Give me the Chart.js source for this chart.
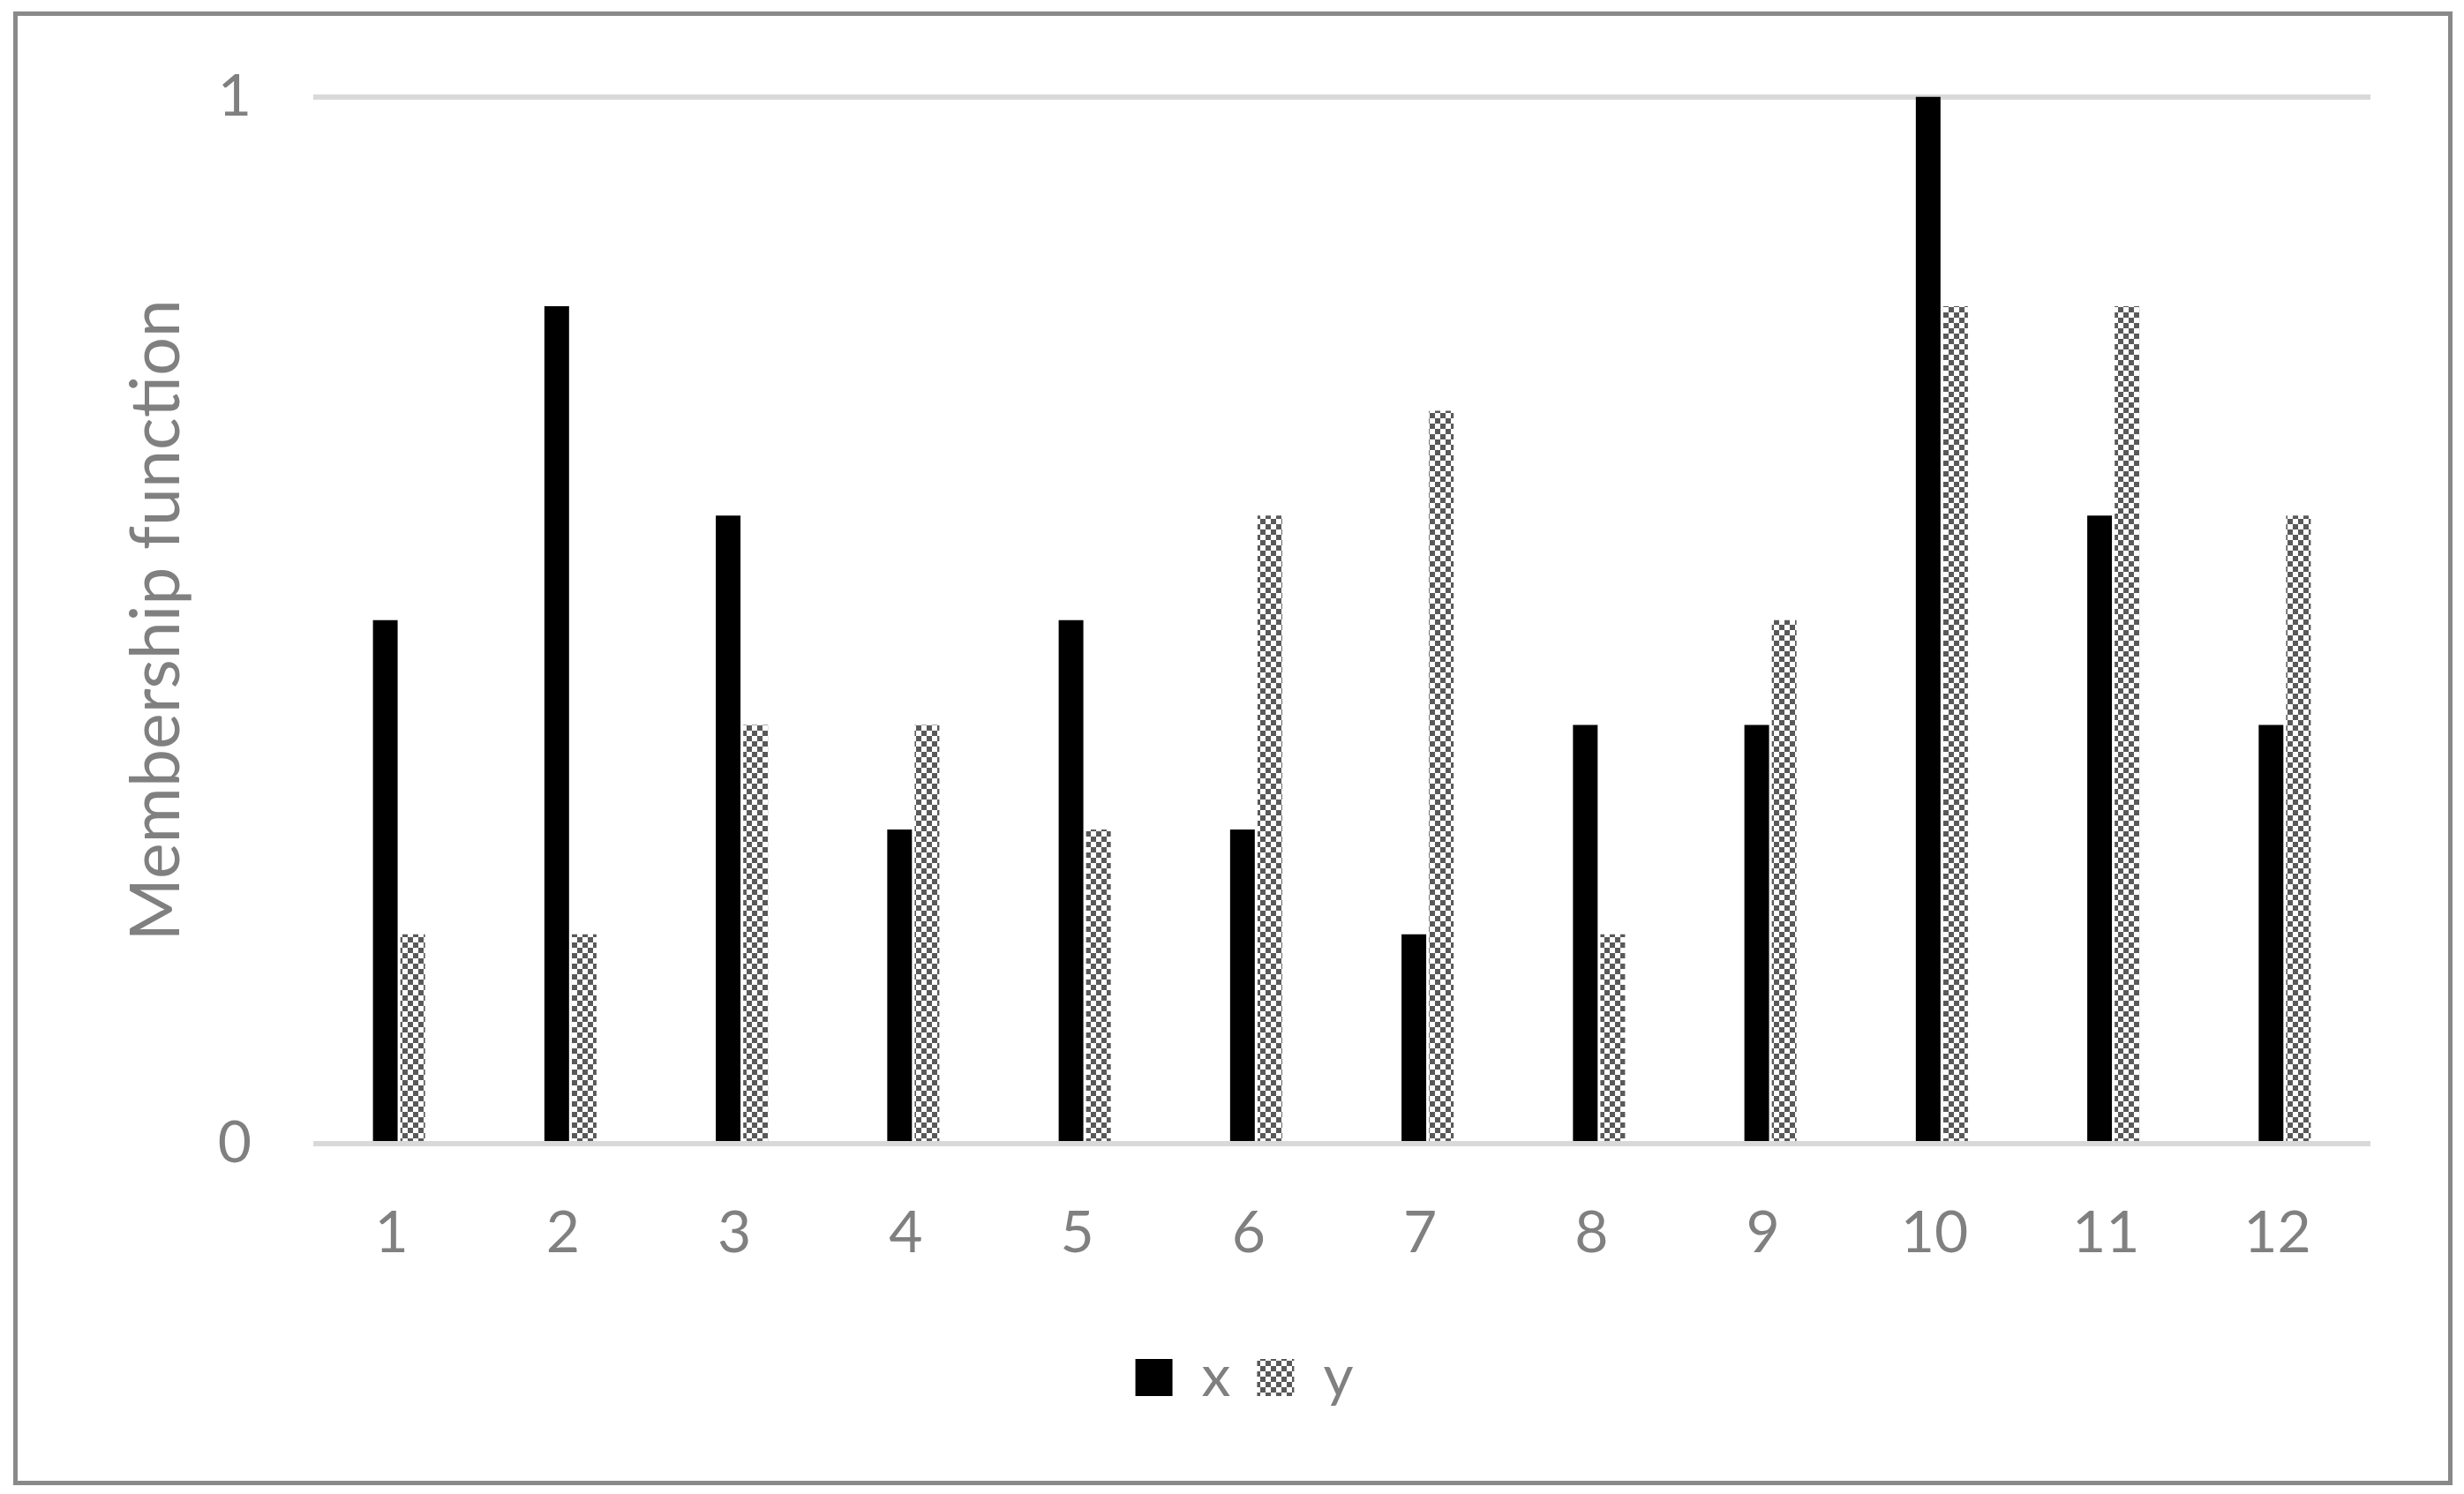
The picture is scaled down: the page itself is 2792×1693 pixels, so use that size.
<!DOCTYPE html>
<html>
<head>
<meta charset="utf-8">
<script src="https://cdn.jsdelivr.net/npm/chart.js@4"></script>
<style>
    html, body { margin: 0; padding: 0; background: #ffffff; }
    canvas { display: block; }
</style>
</head>
<body>
<canvas id="chart" width="2792" height="1693"></canvas>
<script>
// Data
const categories = ['1', '2', '3', '4', '5', '6', '7', '8', '9', '10', '11', '12'];
const xValues = [0.5, 0.8, 0.6, 0.3, 0.5, 0.3, 0.2, 0.4, 0.4, 1.0, 0.6, 0.4];
const yValues = [0.2, 0.2, 0.4, 0.4, 0.3, 0.6, 0.7, 0.2, 0.5, 0.8, 0.8, 0.6];
const yTicks = [0, 1];

// Checkerboard fill for the y series
function makeChecker(color) {
    const c = document.createElement('canvas');
    c.width = 12;
    c.height = 12;
    const g = c.getContext('2d');
    g.fillStyle = '#ffffff';
    g.fillRect(0, 0, 12, 12);
    g.fillStyle = color;
    g.fillRect(0, 0, 6, 6);
    g.fillRect(6, 6, 6, 6);
    return g.createPattern(c, 'repeat');
}

const ctx = document.getElementById('chart');
const checker = makeChecker('#595959');

const textGray = '#808080';
const fontFamily = 'Lato, "Open Sans", sans-serif';

// White background + outer frame
const framePlugin = {
    id: 'frame',
    beforeDraw(chart) {
        const c = chart.ctx;
        c.save();
        c.fillStyle = '#ffffff';
        c.fillRect(0, 0, chart.width, chart.height);
        c.restore();
    },
    afterDraw(chart) {
        const c = chart.ctx;
        c.save();
        c.strokeStyle = '#898989';
        c.lineWidth = 5;
        c.strokeRect(17.5, 15.5, 2759, 1665);
        c.restore();
    }
};

new Chart(ctx, {
    type: 'bar',
    data: {
        labels: categories,
        datasets: [
            {
                label: 'x',
                data: xValues,
                backgroundColor: '#000000',
                borderWidth: 0,
                categoryPercentage: 0.32,
                barPercentage: 0.9
            },
            {
                label: 'y',
                data: yValues,
                backgroundColor: checker,
                borderWidth: 0,
                categoryPercentage: 0.32,
                barPercentage: 0.9
            }
        ]
    },
    options: {
        responsive: false,
        devicePixelRatio: 1,
        animation: false,
        layout: {
            // left padding keeps the legend centred where the original has it
            padding: { top: 106, right: 106, bottom: 89, left: 134 }
        },
        scales: {
            x: {
                grid: { display: false, drawTicks: false },
                border: { display: false },
                ticks: {
                    color: textGray,
                    padding: 62,
                    font: { family: fontFamily, size: 66 },
                    // nudge labels slightly left like the original
                    callback: function (value) { return this.getLabelForValue(value) + ' '; }
                },
                afterFit: (scale) => { scale.height = 202; }
            },
            y: {
                min: 0,
                max: 1,
                afterBuildTicks: (scale) => {
                    scale.ticks = yTicks.map(v => ({ value: v }));
                },
                grid: {
                    color: '#d9d9d9',
                    lineWidth: 6,
                    drawTicks: false
                },
                border: { display: false },
                ticks: {
                    color: textGray,
                    padding: 70,
                    font: { family: fontFamily, size: 66 }
                },
                title: {
                    display: true,
                    text: 'Membership function',
                    color: textGray,
                    font: { family: fontFamily, size: 77, lineHeight: 1.1 },
                    padding: { top: 2, bottom: 0 }
                },
                afterFit: (scale) => { scale.width = 221; }
            }
        },
        plugins: {
            legend: {
                position: 'bottom',
                labels: {
                    color: textGray,
                    boxWidth: 42,
                    boxHeight: 42,
                    padding: 30,
                    font: { family: fontFamily, size: 66 }
                }
            },
            tooltip: { enabled: false }
        }
    },
    plugins: [framePlugin]
});
</script>
</body>
</html>
